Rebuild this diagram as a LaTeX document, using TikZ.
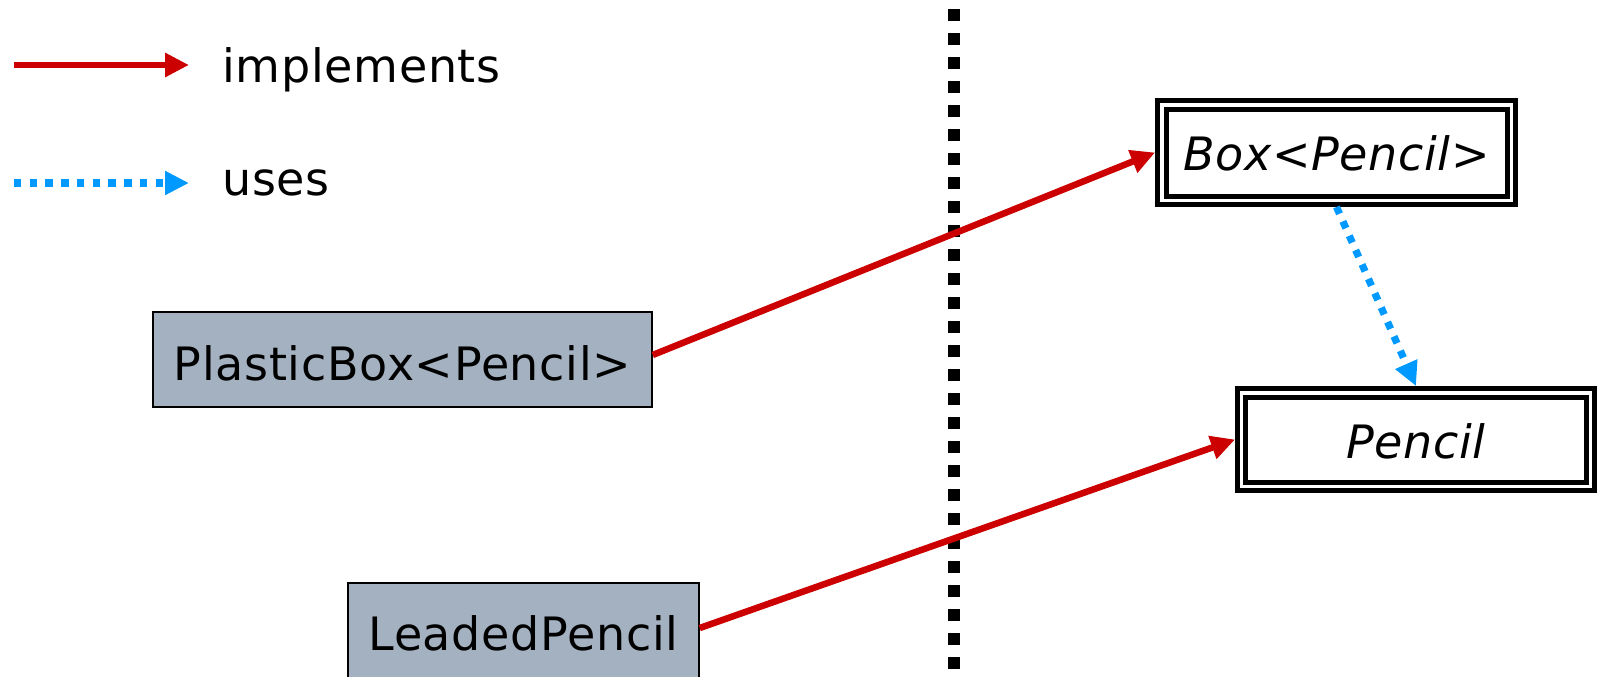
\documentclass[tikz,border=0pt]{standalone}
\usepackage{fontspec}
\setmainfont[LetterSpace=1.5]{DejaVu Sans}
\usetikzlibrary{arrows.meta}
\definecolor{implred}{RGB}{204,0,0}
\definecolor{useblue}{RGB}{0,153,255}
\definecolor{classfill}{RGB}{163,177,192}
\tikzset{
  txt/.style={font=\fontsize{34.5pt}{40pt}\selectfont, inner sep=0pt},
  classbox/.style={txt, draw=black, line width=1.1pt, fill=classfill, text depth=0pt},
  ifacebox/.style={txt, draw=black, double=white, line width=3.75pt, double distance=2.6pt,
    outer sep=5.05pt, text depth=0pt, font=\fontsize{34.5pt}{40pt}\selectfont\itshape},
  implarrow/.style={draw=implred, line width=4.9pt,
    -{Triangle[length=18pt,width=17.25pt]}},
  usearrow/.style={draw=useblue, line width=5.4pt, dash pattern=on 5.6pt off 6.2pt,
    -{Triangle[length=18pt,width=17pt]}},
  boundary/.style={draw=black, line width=9pt, dash pattern=on 9pt off 9pt}
}
\begin{document}
\begin{tikzpicture}[x=0.75pt,y=-0.75pt]
\useasboundingbox (0,0) rectangle (1602,676);
\clip (0,0) rectangle (1602,676);

% legend
\coordinate (ia) at (14,65);
\coordinate (ib) at (189,65);
\coordinate (ua) at (14,183);
\coordinate (ub) at (189,183);
\node[txt, anchor=base west] (impl) at (222,82) {implements};
\node[txt, anchor=base west] (uses) at (222,195) {uses};
\draw[implarrow] (ia) -- (ib);
\draw[usearrow] (ua) -- (ub);

% boundary between the two sides
\coordinate (bt) at (954,9);
\coordinate (bb) at (954,669);
\draw[boundary] (bt) -- (bb);

% classes
\node[classbox, minimum width=374.25pt, minimum height=71.25pt, text height=30.75pt]
  (pb) at (402.5,359.5) {PlasticBox<Pencil>};
\node[classbox, minimum width=263.25pt, minimum height=75pt, text height=25.5pt]
  (lp) at (523.5,633) {LeadedPencil};

% interfaces
\node[ifacebox, minimum width=262.1pt, minimum height=71.6pt, text height=26.25pt]
  (box) at (1336.5,152.5) {Box<Pencil>};
\node[ifacebox, minimum width=261.4pt, minimum height=70.1pt, text height=27.75pt]
  (pencil) at (1416,439.5) {Pencil};

% relations
\draw[implarrow] ([yshift=3.4pt]pb.east) -- (box.west);
\draw[implarrow] ([yshift=3.75pt]lp.east) -- (pencil.west);
\draw[usearrow] (box.south) -- (pencil.north);
\end{tikzpicture}
\end{document}
